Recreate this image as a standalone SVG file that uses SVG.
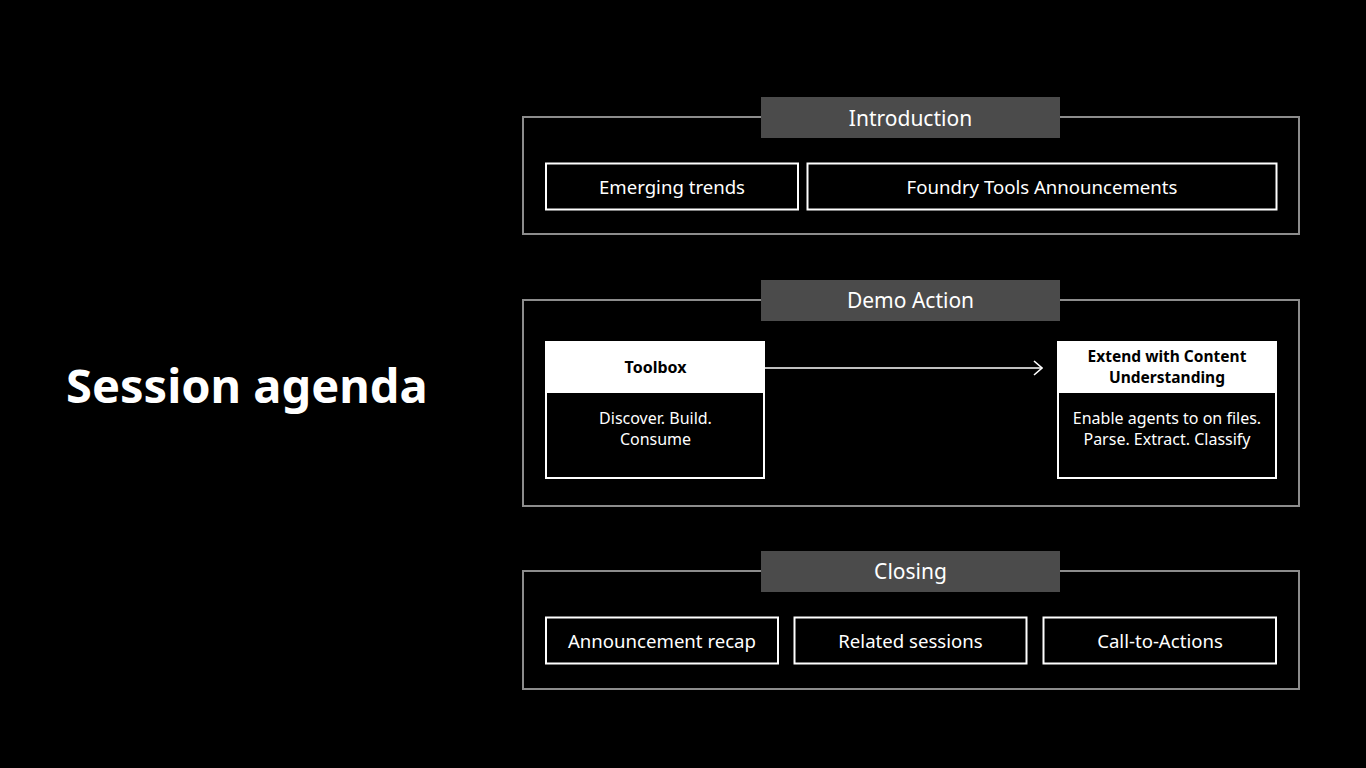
<svg xmlns="http://www.w3.org/2000/svg" width="1366" height="768" viewBox="0 0 1366 768">
<defs>
<style>
.sec{fill:#000;stroke:#8c8c8c;stroke-width:2}
.tab{fill:#4b4b4b}
.tabt{font-family:"Noto Sans","Open Sans",sans-serif;font-size:21px;fill:#fff;text-anchor:middle}
.box{fill:#000;stroke:#fff;stroke-width:2}
.bt{font-family:"Noto Sans","Open Sans",sans-serif;font-size:18.6px;fill:#fff;text-anchor:middle}
.hd{fill:#fff}
.ht{font-family:"Noto Sans","Open Sans",sans-serif;font-size:16px;font-weight:bold;fill:#000;text-anchor:middle}
.ht2{font-family:"Noto Sans","Open Sans",sans-serif;font-size:15.5px;font-weight:bold;fill:#000;text-anchor:middle}
.st{font-family:"Noto Sans","Open Sans",sans-serif;font-size:16px;fill:#fff;text-anchor:middle}
</style>
<marker id="arr" viewBox="0 0 12 16" refX="11" refY="8" markerWidth="12" markerHeight="16" markerUnits="userSpaceOnUse" orient="auto">
<path d="M3,1 L11,8 L3,15" fill="none" stroke="#fff" stroke-width="1.6"/>
</marker>
</defs>
<rect width="1366" height="768" fill="#000"/>
<g id="title">
<text x="66" y="403" font-family="Noto Sans,Open Sans,sans-serif" font-size="47" font-weight="bold" fill="#fff">Session agenda</text>
</g>

<g id="intro">
<rect class="sec" x="523" y="117" width="776" height="117"/>
<rect class="tab" x="761" y="97" width="299" height="41"/>
<text class="tabt" x="910.5" y="126">Introduction</text>
</g>
<g id="emerging">
<rect class="box" x="546" y="163.5" width="252" height="46"/>
<text class="bt" x="672" y="194">Emerging trends</text>
</g>
<g id="foundry">
<rect class="box" x="807.5" y="163.5" width="469" height="46"/>
<text class="bt" x="1042" y="194">Foundry Tools Announcements</text>
</g>

<g id="demo">
<rect class="sec" x="523" y="300" width="776" height="206"/>
<rect class="tab" x="761" y="280" width="299" height="41"/>
<text class="tabt" x="910.5" y="308">Demo Action</text>
</g>
<g id="toolbox">
<rect class="box" x="546" y="342" width="218" height="136"/>
<rect class="hd" x="545" y="341" width="220" height="52"/>
<text class="ht" x="655.5" y="373">Toolbox</text>
<text class="st" x="655.5" y="424">Discover. Build.</text>
<text class="st" x="655.5" y="445">Consume</text>
</g>
<g id="extend">
<rect class="box" x="1058" y="342" width="218" height="136"/>
<rect class="hd" x="1057" y="341" width="220" height="52"/>
<text class="ht2" x="1167" y="362">Extend with Content</text>
<text class="ht2" x="1167" y="383">Understanding</text>
<text class="st" x="1167" y="424">Enable agents to on files.</text>
<text class="st" x="1167" y="445">Parse. Extract. Classify</text>
</g>

<g id="closing">
<rect class="sec" x="523" y="571" width="776" height="118"/>
<rect class="tab" x="761" y="551" width="299" height="41"/>
<text class="tabt" x="910.5" y="579">Closing</text>
</g>
<g id="recap">
<rect class="box" x="546" y="617.5" width="232" height="46"/>
<text class="bt" x="662" y="648">Announcement recap</text>
</g>
<g id="related">
<rect class="box" x="794.5" y="617.5" width="232" height="46"/>
<text class="bt" x="910.5" y="648">Related sessions</text>
</g>
<g id="cta">
<rect class="box" x="1043.5" y="617.5" width="232.5" height="46"/>
<text class="bt" x="1160" y="648">Call-to-Actions</text>
</g>

<g id="connectors">
<line x1="765" y1="368" x2="1042" y2="368" stroke="#fff" stroke-width="1.6" marker-end="url(#arr)"/>
</g>
</svg>
